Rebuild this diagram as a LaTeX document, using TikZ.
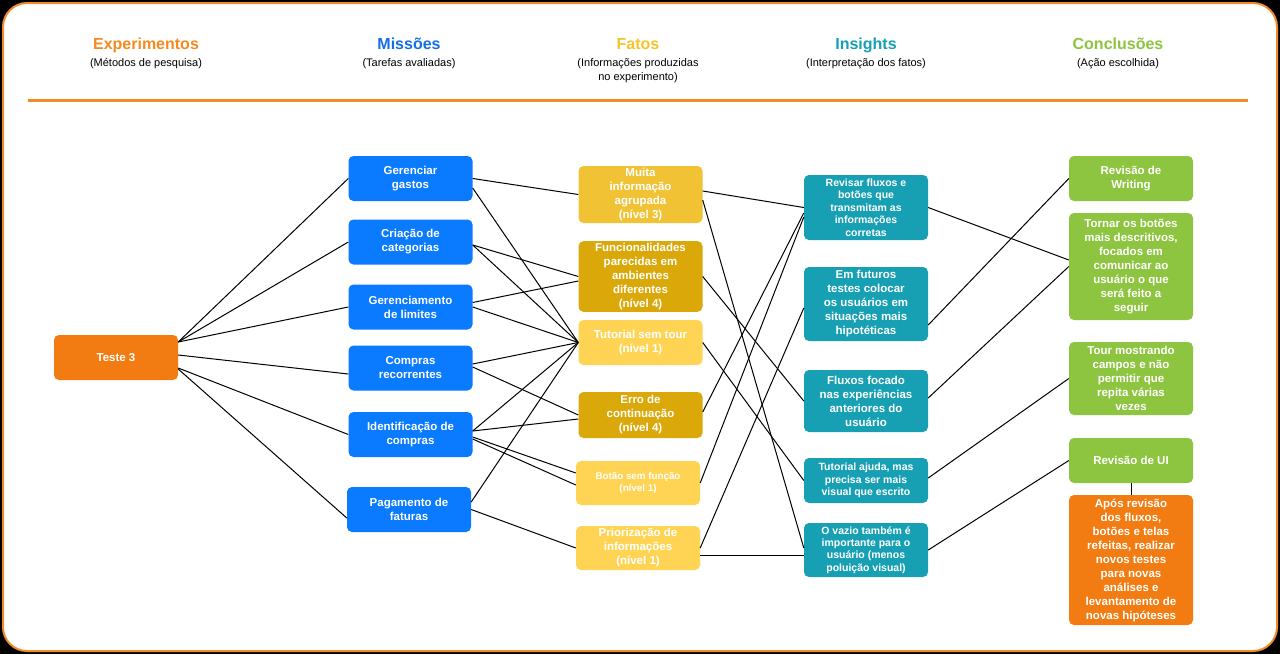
\documentclass[tikz,border=0pt]{standalone}
\usepackage{fontspec}
\setmainfont{Liberation Sans}
\definecolor{frameor}{RGB}{240, 140, 40}
\definecolor{orange1}{RGB}{242, 124, 18}
\definecolor{exporange}{RGB}{245, 138, 31}
\definecolor{misblue}{RGB}{10, 122, 255}
\definecolor{misblue2}{RGB}{20, 110, 230}
\definecolor{yelmid}{RGB}{240, 194, 52}
\definecolor{yeldark}{RGB}{219, 168, 10}
\definecolor{yellight}{RGB}{255, 212, 84}
\definecolor{fatyel}{RGB}{245, 196, 40}
\definecolor{insteal}{RGB}{23, 160, 180}
\definecolor{congreen}{RGB}{141, 196, 64}

\begin{document}
\begin{tikzpicture}[x=1pt, y=-1pt,
  box/.style={rounded corners=5pt, minimum width=124pt, align=center, text=white, inner sep=2pt, font=\fontsize{11.5}{14}\selectfont\bfseries},
  smallbox/.style={box, font=\fontsize{10.5}{12.4}\selectfont\bfseries},
  tinybox/.style={box, font=\fontsize{9.8}{12}\selectfont\bfseries},
  coltitle/.style={anchor=base, font=\fontsize{16}{19}\selectfont\bfseries},
  colsub/.style={anchor=north, inner sep=0pt, align=center, font=\fontsize{11}{14}\selectfont},
  link/.style={draw=black, line width=1pt}]
  \useasboundingbox (0,0) rectangle (1280,654);
  \fill[black] (0,0) rectangle (1280,654);
  \draw[draw=frameor, fill=white, line width=2pt, rounded corners=24pt] (3,3) rectangle (1277,651);

  % Column headers
  \node[coltitle, text=exporange] (hexp) at (146,49) {Experimentos};
  \node[colsub] (sexp) at (146,58) {(Métodos de pesquisa)};
  \node[coltitle, text=misblue2] (hmis) at (409,49) {Missões};
  \node[colsub] (smis) at (409,58) {(Tarefas avaliadas)};
  \node[coltitle, text=fatyel] (hfat) at (638,49) {Fatos};
  \node[colsub] (sfat) at (638,58) {(Informações produzidas\\no experimento)};
  \node[coltitle, text=insteal] (hins) at (866,49) {Insights};
  \node[colsub] (sins) at (866,58) {(Interpretação dos fatos)};
  \node[coltitle, text=congreen] (hcon) at (1118,49) {Conclusões};
  \node[colsub] (scon) at (1118,58) {(Ação escolhida)};
  \draw[frameor, line width=3pt] (28,100) -- (1248,100);

  % Experiment
  \node[box, fill=orange1, minimum height=45pt] (t3) at (116,357.5) {Teste 3};

  % Missions
  \node[box, fill=misblue, minimum height=45pt] (gastos) at (410.5,178.5) {Gerenciar\\gastos};
  \node[box, fill=misblue, minimum height=45pt] (categ) at (410.5,242) {Criação de\\categorias};
  \node[box, fill=misblue, minimum height=45pt] (limites) at (410.5,307) {Gerenciamento\\de limites};
  \node[box, fill=misblue, minimum height=45pt] (recor) at (410.5,368) {Compras\\recorrentes};
  \node[box, fill=misblue, minimum height=45pt] (ident) at (410.5,434.5) {Identificação de\\compras};
  \node[box, fill=misblue, minimum height=45pt] (fatur) at (409,509.5) {Pagamento de\\faturas};

  % Facts
  \node[box, fill=yelmid, minimum height=57pt] (muita) at (640.5,194.5) {Muita\\informação\\agrupada\\(nível 3)};
  \node[box, fill=yeldark, minimum height=69pt] (funcio) at (640.5,276.5) {Funcionalidades\\parecidas em\\ambientes\\diferentes\\(nível 4)};
  \node[box, fill=yellight, minimum height=45pt] (tutor) at (640.5,342.5) {Tutorial sem tour\\(nível 1)};
  \node[box, fill=yeldark, minimum height=46pt] (erro) at (640.5,415) {Erro de\\continuação\\(nível 4)};
  \node[tinybox, fill=yellight, minimum height=44pt] (botao) at (638,483) {Botão sem função\\(nível 1)};
  \node[box, fill=yellight, minimum height=44pt] (prior) at (638,548) {Priorização de\\informações\\(nível 1)};

  % Insights
  \node[smallbox, fill=insteal, minimum height=65pt] (revis) at (866,207.5) {Revisar fluxos e\\botões que\\transmitam as\\informações\\corretas};
  \node[box, fill=insteal, minimum height=74pt] (futur) at (866,304) {Em futuros\\testes colocar\\os usuários em\\situações mais\\hipotéticas};
  \node[box, fill=insteal, minimum height=62pt] (fluxo) at (866,401) {Fluxos focado\\nas experiências\\anteriores do\\usuário};
  \node[smallbox, fill=insteal, minimum height=45pt] (tajud) at (866,480.5) {Tutorial ajuda, mas\\precisa ser mais\\visual que escrito};
  \node[smallbox, fill=insteal, minimum height=54pt] (vazio) at (866,550) {O vazio também é\\importante para o\\usuário (menos\\poluição visual)};

  % Conclusions
  \node[box, fill=congreen, minimum height=45pt] (writ) at (1131,178.5) {Revisão de\\Writing};
  \node[box, fill=congreen, minimum height=107pt] (torn) at (1131,266.5) {Tornar os botões\\mais descritivos,\\focados em\\comunicar ao\\usuário o que\\será feito a\\seguir};
  \node[box, fill=congreen, minimum height=73pt] (tour) at (1131,378.5) {Tour mostrando\\campos e não\\permitir que\\repita várias\\vezes};
  \node[box, fill=congreen, minimum height=45pt] (ui) at (1131,460.5) {Revisão de UI};
  \node[box, fill=orange1, minimum height=130pt] (apos) at (1131,560) {Após revisão\\dos fluxos,\\botões e telas\\refeitas, realizar\\novos testes\\para novas\\análises e\\levantamento de\\novas hipóteses};

  % Experiment -> missions
  \draw[link] ([yshift=15.5pt]t3.east) -- (gastos.west);
  \draw[link] ([yshift=15.5pt]t3.east) -- (categ.west);
  \draw[link] ([yshift=15.5pt]t3.east) -- (limites.west);
  \draw[link] ([yshift=2.5pt]t3.east) -- ([yshift=-6pt]recor.west);
  \draw[link] ([yshift=-10.5pt]t3.east) -- (ident.west);
  \draw[link] ([yshift=-11.5pt]t3.east) -- ([yshift=-8.5pt]fatur.west);

  % Missions -> facts
  \draw[link] (gastos.east) -- (muita.west);
  \draw[link] ([yshift=-9.5pt]gastos.east) -- (tutor.west);
  \draw[link] ([yshift=-3pt]categ.east) -- (funcio.west);
  \draw[link] ([yshift=-3pt]categ.east) -- (tutor.west);
  \draw[link] ([yshift=4.5pt]limites.east) -- ([yshift=-4.5pt]funcio.west);
  \draw[link] (limites.east) -- (tutor.west);
  \draw[link] ([yshift=4pt]recor.east) -- (tutor.west);
  \draw[link] ([yshift=1pt]recor.east) -- (erro.west);
  \draw[link] ([yshift=3.5pt]ident.east) -- (tutor.west);
  \draw[link] ([yshift=3.5pt]ident.east) -- ([yshift=-4pt]erro.west);
  \draw[link] ([yshift=-2.5pt]ident.east) -- ([yshift=10pt]botao.west);
  \draw[link] ([yshift=-4.5pt]ident.east) -- ([yshift=-2pt]botao.west);
  \draw[link] ([yshift=7.5pt]fatur.east) -- (tutor.west);
  \draw[link] (fatur.east) -- (prior.west);

  % Facts -> insights
  \draw[link] ([yshift=3.5pt]muita.east) -- (revis.west);
  \draw[link] ([yshift=-5.5pt]muita.east) -- ([yshift=2pt]vazio.west);
  \draw[link] (funcio.east) -- (fluxo.west);
  \draw[link] (tutor.east) -- (tajud.west);
  \draw[link] ([yshift=3pt]erro.east) -- ([yshift=-5.5pt]revis.west);
  \draw[link] (botao.east) -- ([yshift=-9.5pt]revis.west);
  \draw[link] (prior.east) -- ([yshift=-4pt]futur.west);
  \draw[link] ([yshift=-7pt]prior.east) -- ([yshift=-5pt]vazio.west);

  % Insights -> conclusions
  \draw[link] (revis.east) -- ([yshift=6.5pt]torn.west);
  \draw[link] ([yshift=-21pt]futur.east) -- (writ.west);
  \draw[link] ([yshift=3pt]fluxo.east) -- (torn.west);
  \draw[link] ([yshift=2.5pt]tajud.east) -- (tour.west);
  \draw[link] (vazio.east) -- (ui.west);
  \draw[link] (ui.south) -- (apos.north);
\end{tikzpicture}
\end{document}
